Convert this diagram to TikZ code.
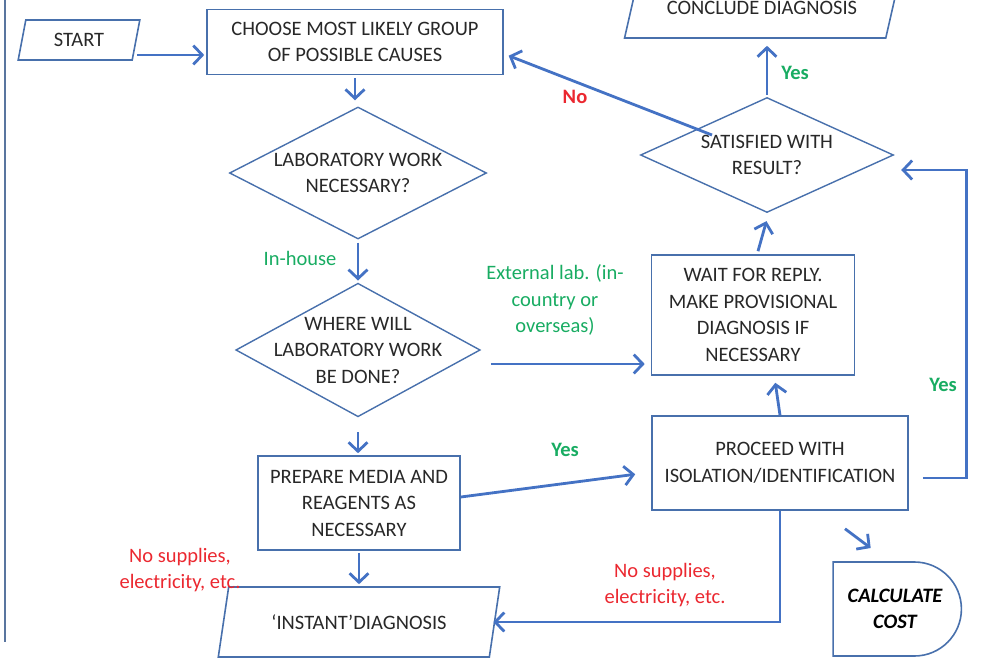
\documentclass[tikz,border=0pt]{standalone}
\usepackage{fontspec}
\setmainfont{Carlito}
\usetikzlibrary{shapes.geometric,shapes.misc,arrows.meta}
\definecolor{flowblue}{RGB}{68,114,196}
\definecolor{edgeblue}{RGB}{72,112,172}
\definecolor{yesgreen}{RGB}{24,172,98}
\definecolor{nored}{RGB}{235,40,48}
\definecolor{txtgray}{RGB}{40,40,40}

\begin{document}
\begin{tikzpicture}[x=1pt,y=-1pt,
    font=\fontsize{20.5}{26.5}\selectfont,
    every node/.style={text=txtgray, align=center},
    procbox/.style={draw=edgeblue, line width=1.6pt, rectangle, inner sep=0pt},
    decision/.style={draw=edgeblue, line width=1.4pt, diamond, inner sep=0pt},
    io/.style={draw=edgeblue, line width=1.6pt, trapezium, trapezium stretches=true,
        inner sep=0pt},
    flow/.style={draw=flowblue, line width=2.8pt, shorten >=2pt,
        -{Straight Barb[length=9pt,width=19pt]}},
    greenlbl/.style={text=yesgreen},
    redlbl/.style={text=nored}]
    \useasboundingbox (0,0) rectangle (982,664);
    \draw[edgeblue!70!gray, line width=1.5pt] (5,0) -- (5,642);

    % main column
    \node[io, trapezium left angle=75, trapezium right angle=105,
        minimum width=122pt, minimum height=40pt] (start) at (79,40) {START};
    \node[procbox, minimum width=296pt, minimum height=65pt] (choose) at (355,42)
        {CHOOSE MOST LIKELY GROUP\\OF POSSIBLE CAUSES};
    \node[decision, aspect=1.95, minimum width=257pt, minimum height=132pt] (lab) at (358,173)
        {LABORATORY WORK\\NECESSARY?};
    \node[decision, aspect=1.83, inner sep=-8pt, minimum width=243pt, minimum height=133pt]
        (where) at (358,350) {WHERE WILL\\LABORATORY WORK\\BE DONE?};
    \node[procbox, minimum width=202pt, minimum height=94pt] (prepare) at (359,503)
        {PREPARE MEDIA AND\\REAGENTS AS\\NECESSARY};
    \node[io, trapezium left angle=65, trapezium right angle=115,
        minimum width=282pt, minimum height=70pt] (instant) at (359,622)
        {‘INSTANT’DIAGNOSIS};

    % right column
    \node[procbox, minimum width=256pt, minimum height=94pt] (proceed) at (780,463)
        {PROCEED WITH\\ISOLATION/IDENTIFICATION};
    \node[procbox, minimum width=203pt, minimum height=120pt] (wait) at (753,315)
        {WAIT FOR REPLY.\\MAKE PROVISIONAL\\DIAGNOSIS IF\\NECESSARY};
    \node[decision, aspect=2.2, minimum width=253pt, minimum height=115pt] (satisfied) at (767,155)
        {SATISFIED WITH\\RESULT?};
    \node[io, trapezium left angle=52, trapezium right angle=128,
        minimum width=275pt, minimum height=60pt] (conclude) at (762,8)
        {CONCLUDE DIAGNOSIS};
    \node[draw=edgeblue, line width=1.6pt, rounded rectangle,
        rounded rectangle left arc=none, minimum width=135pt, minimum height=94pt,
        text=black, font=\fontsize{20.5}{26.5}\selectfont\bfseries\itshape] (calc) at (895,609)
        {CALCULATE\\COST};

    % labels
    \node[greenlbl] (inhouse) at (300,258) {In-house};
    \node[greenlbl] (external) at (555,300) {External lab. (in-\\country or\\overseas)};
    \node[greenlbl, font=\fontsize{20.5}{26.5}\selectfont\bfseries] (yesprep) at (565,450) {Yes};
    \node[greenlbl, font=\fontsize{20.5}{26.5}\selectfont\bfseries] (yesconc) at (795,73) {Yes};
    \node[greenlbl, font=\fontsize{20.5}{26.5}\selectfont\bfseries] (yesproc) at (943,385) {Yes};
    \node[redlbl, font=\fontsize{20.5}{26.5}\selectfont\bfseries] (no) at (575,97) {No};
    \node[redlbl] (nosupa) at (180,570) {No supplies,\\electricity, etc.};
    \node[redlbl] (nosupb) at (665,585) {No supplies,\\electricity, etc.};

    % connectors
    \draw[flow] ([yshift=-15pt]start.east) -- ([yshift=-15pt]start.east -| choose.west);
    \draw[flow] ([yshift=-3pt]choose.south) -- ([yshift=4pt]choose.south |- lab.north);
    \draw[flow] ([yshift=-3pt]lab.south) -- (lab.south |- where.north);
    \draw[flow] ([yshift=-15pt]where.south) -- (where.south |- prepare.north);
    \draw[flow] ([yshift=-2pt]prepare.south) -- (prepare.south |- instant.north);
    \draw[flow] ([shift={(10pt,-14pt)}]where.east) coordinate (ext)
        -- ([xshift=-4pt]ext -| wait.west);
    \draw[flow] ([yshift=6pt]prepare.east) -- ([shift={(-14pt,-11pt)}]proceed.west);
    \draw[flow] (proceed.south) |- ([xshift=-4pt]instant.east);
    \draw[flow] ([shift={(65pt,-18pt)}]proceed.south) -- ([shift={(40pt,12pt)}]calc.north west);
    \draw[flow] ([shift={(14pt,-15pt)}]proceed.east) -- ++(44pt,0pt)
        |- ([shift={(5pt,-15pt)}]satisfied.east);
    \draw[flow] (proceed.north) -- ([shift={(22pt,-5pt)}]wait.south);
    \draw[flow] ([shift={(5pt,3pt)}]wait.north) -- ([yshift=-6pt]satisfied.south);
    \draw[flow] ([yshift=2pt]satisfied.north) -- ([yshift=-5pt]satisfied.north |- conclude.south);
    \draw[flow] ([shift={(-55pt,20pt)}]satisfied.center) -- ([shift={(3pt,-13pt)}]choose.east);
\end{tikzpicture}
\end{document}
